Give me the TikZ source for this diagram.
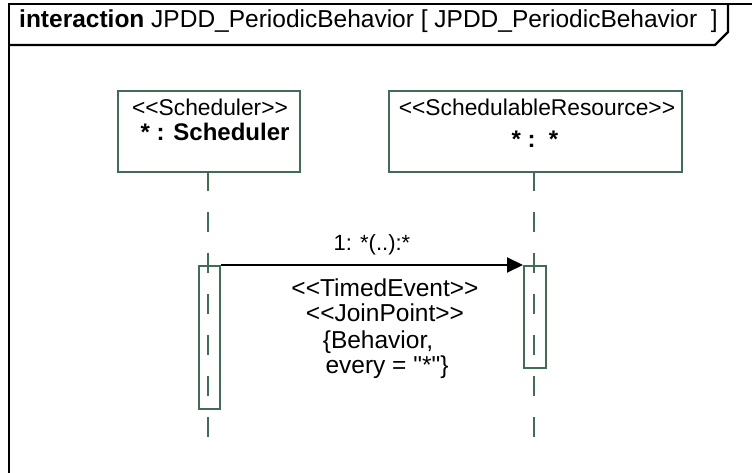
\documentclass[tikz,border=0pt]{standalone}
\usepackage{fontspec}
\setmainfont[Ligatures=NoCommon]{Liberation Sans}
\usetikzlibrary{arrows.meta}
\definecolor{lifegreen}{RGB}{66,108,86}
\tikzset{
  frameline/.style={draw=black, line width=2.4pt},
  objbox/.style={draw=lifegreen, line width=2pt},
  lifeline/.style={draw=lifegreen, line width=2pt, dash pattern=on 20pt off 21pt},
  actbox/.style={draw=lifegreen, line width=2pt},
  msg/.style={draw=black, line width=2pt, -{Triangle[length=16pt,width=15pt]}},
  txt/.style={inner sep=0pt, font=\fontsize{22}{26}\selectfont, anchor=base},
  boxtxt/.style={txt, font=\fontsize{22.8}{27}\selectfont},
  bigtxt/.style={txt, font=\fontsize{24.5}{28}\selectfont},
  boldtxt/.style={txt, font=\fontsize{24}{28}\selectfont\bfseries},
}
\begin{document}
\begin{tikzpicture}[x=1pt, y=-1pt]
\useasboundingbox (0,0) rectangle (752,473);
% frame
\draw[frameline] (9,473) -- (9,4) -- (752,4);
\draw[frameline] (9,45) -- (715,45) -- (728,32) -- (728,4);
\node[bigtxt, anchor=base west] (title) at (19,28) {\textbf{interaction} JPDD\_PeriodicBehavior [ JPDD\_PeriodicBehavior\ \ ]};
% objects
\node[objbox, minimum width=182pt, minimum height=81pt, anchor=north west, inner sep=0pt] (sch) at (117,90) {};
\node[objbox, minimum width=293pt, minimum height=81pt, anchor=north west, inner sep=0pt] (res) at (388,90) {};
\node[boxtxt] (schst) at (210,116) {<{}<Scheduler>{}>};
\node[boldtxt] (schnm) at (215,141) {* : Scheduler};
\node[boxtxt] (resst) at (537,116) {<{}<SchedulableResource>{}>};
\node[boldtxt] (resnm) at (535,148) {* :\ \ *};
% lifelines
\coordinate (l1top) at (207.5,171);
\coordinate (l1bot) at (207.5,437);
\coordinate (l2top) at (533.5,171);
\coordinate (l2bot) at (533.5,437);
\draw[lifeline] (l1top) -- (l1bot);
\draw[lifeline] (l2top) -- (l2bot);
% activations
\node[actbox, minimum width=21pt, minimum height=143pt, anchor=north west, inner sep=0pt] (act1) at (198,265) {};
\node[actbox, minimum width=22pt, minimum height=102pt, anchor=north west, inner sep=0pt] (act2) at (523,265) {};
% message
\draw[msg] (act1.north east) -- (act2.north west);
\node[txt] (m0) at (372,251) {1: *(..):*};
\node[bigtxt] (m1) at (385,296) {<{}<TimedEvent>{}>};
\node[bigtxt] (m2) at (385,321) {<{}<JoinPoint>{}>};
\node[bigtxt] (m3) at (378,348) {\{Behavior,};
\node[bigtxt] (m4) at (387,373) {every = \textquotedbl*\textquotedbl\}};
\end{tikzpicture}
\end{document}
